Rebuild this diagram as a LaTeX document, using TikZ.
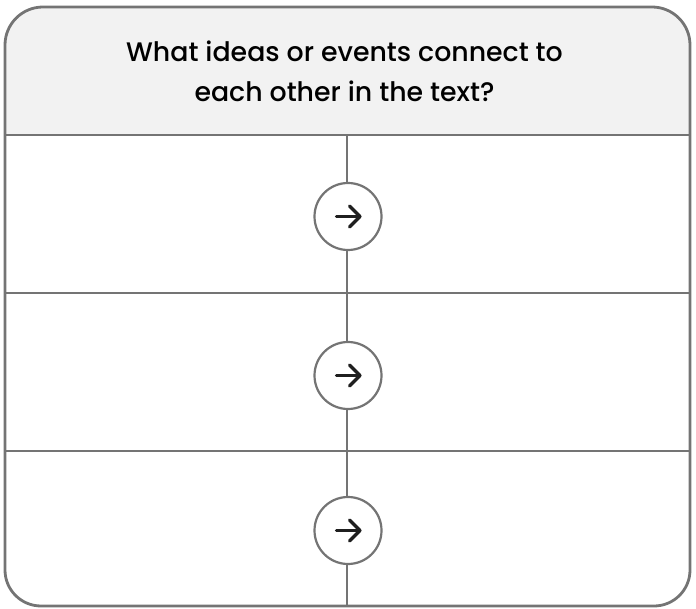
\documentclass[tikz,border=0pt]{standalone}
\usepackage{fontspec}
\setmainfont{Poppins}
\newfontfamily\popmed{Poppins Medium}
\definecolor{linegray}{HTML}{747474}
\begin{document}
\begin{tikzpicture}[x=1pt,y=-1pt,
  frame/.style={draw=linegray, line width=2.8pt},
  grid/.style={draw=linegray, line width=2.2pt},
  circ/.style={circle, draw=linegray, line width=2.2pt, fill=white, minimum size=67pt, inner sep=0pt},
  arr/.style={draw=black!88, line width=3.2pt, line cap=round, line join=round}]
\useasboundingbox (0,0) rectangle (696,609);
% header fill
\fill[black!5] (5,135) -- (5,45) arc[start angle=180,end angle=270,radius=38] -- (652,7) arc[start angle=270,end angle=360,radius=38] -- (690,135) -- cycle;
\node[font=\popmed\fontsize{26.8}{40}\selectfont, align=center, text=black] (title) at (344.5,71) {What ideas or events connect to\\each other in the text?};
% grid lines
\coordinate (hl) at (5,135); \coordinate (hr) at (690,135);
\coordinate (r1l) at (5,293); \coordinate (r1r) at (690,293);
\coordinate (r2l) at (5,451); \coordinate (r2r) at (690,451);
\coordinate (vt) at (347,135); \coordinate (vb) at (347,606);
\draw[grid] (hl) -- (hr);
\draw[grid] (r1l) -- (r1r);
\draw[grid] (r2l) -- (r2r);
\draw[grid] (vt) -- (vb);
% circles
\foreach \n/\y in {c1/216.5, c2/375.5, c3/530.5}{
  \node[circ] (\n) at (348,\y) {};
  \draw[arr] ([xshift=-11.5pt]\n.center) -- ([xshift=12pt]\n.center);
  \draw[arr] ([xshift=1.5pt,yshift=-10.5pt]\n.center) -- ([xshift=12pt]\n.center) -- ([xshift=1.5pt,yshift=10.5pt]\n.center);
}
% outer frame
\draw[frame] (5,45) arc[start angle=180,end angle=270,radius=38] -- (652,7) arc[start angle=270,end angle=360,radius=38] -- (690,570) arc[start angle=0,end angle=90,radius=36] -- (41,606) arc[start angle=90,end angle=180,radius=36] -- cycle;
\end{tikzpicture}
\end{document}
